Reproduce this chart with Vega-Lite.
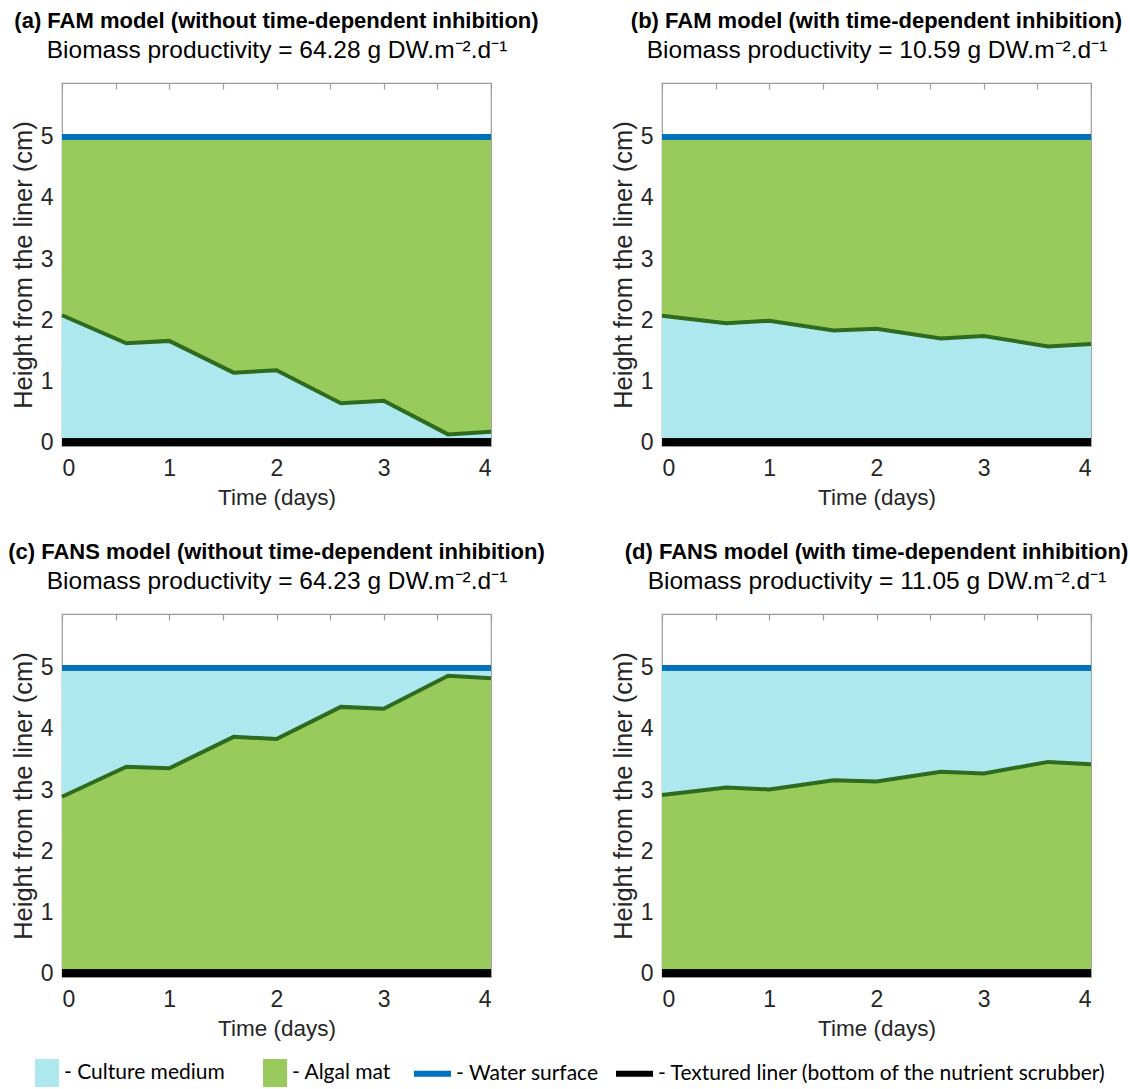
{
  "$schema": "https://vega.github.io/schema/vega-lite/v6.json",
  "background": "white",
  "padding": {"left": 7, "top": 9, "right": 3, "bottom": 0},
  "datasets": {
    "a": [
      {"t": 0, "h": 2.08}, {"t": 0.6, "h": 1.62}, {"t": 1, "h": 1.66}, {"t": 1.6, "h": 1.14}, {"t": 2, "h": 1.18},
      {"t": 2.6, "h": 0.64}, {"t": 3, "h": 0.68}, {"t": 3.6, "h": 0.13}, {"t": 4, "h": 0.175}
    ],
    "b": [
      {"t": 0, "h": 2.07}, {"t": 0.6, "h": 1.95}, {"t": 1, "h": 1.99}, {"t": 1.6, "h": 1.83}, {"t": 2, "h": 1.86},
      {"t": 2.6, "h": 1.70}, {"t": 3, "h": 1.74}, {"t": 3.6, "h": 1.57}, {"t": 4, "h": 1.61}
    ],
    "c": [
      {"t": 0, "h": 2.89}, {"t": 0.6, "h": 3.38}, {"t": 1, "h": 3.355}, {"t": 1.6, "h": 3.87}, {"t": 2, "h": 3.835},
      {"t": 2.6, "h": 4.36}, {"t": 3, "h": 4.33}, {"t": 3.6, "h": 4.87}, {"t": 4, "h": 4.83}
    ],
    "d": [
      {"t": 0, "h": 2.92}, {"t": 0.6, "h": 3.04}, {"t": 1, "h": 3.01}, {"t": 1.6, "h": 3.16}, {"t": 2, "h": 3.14},
      {"t": 2.6, "h": 3.30}, {"t": 3, "h": 3.27}, {"t": 3.6, "h": 3.46}, {"t": 4, "h": 3.42}
    ]
  },
  "spacing": 30,
  "vconcat": [
    {
      "bounds": "flush",
      "spacing": 171,
      "resolve": {"legend": {"fill": "independent", "stroke": "independent"}},
      "hconcat": [
        {
          "width": 429, "height": 363,
          "title": {"text": "(a) FAM model (without time-dependent inhibition)"},
          "data": {"name": "a"},
          "layer": [
            {"mark": {"type": "area", "opacity": 1},
             "encoding": {
               "x": {"field": "t", "type": "quantitative", "scale": {"domain": [0, 4], "nice": false}, "axis": {"values": [0, 1, 2, 3, 4], "format": "d", "title": "Time (days)"}},
               "y": {"field": "h", "type": "quantitative", "scale": {"domain": [-0.06, 5.88], "nice": false, "zero": false}, "axis": {"values": [0, 1, 2, 3, 4, 5], "format": "d", "title": "Height from the liner (cm)"}},
               "y2": {"datum": 0},
               "fill": {"datum": "- Culture medium", "type": "nominal",
                        "scale": {"domain": ["- Culture medium", "- Algal mat"], "range": ["#aee8ef", "#98cb5b"]}, "legend": null}
             }},
            {"mark": {"type": "area", "opacity": 1},
             "encoding": {
               "x": {"field": "t", "type": "quantitative", "axis": null},
               "y": {"field": "h", "type": "quantitative"},
               "y2": {"datum": 5},
               "fill": {"datum": "- Algal mat", "type": "nominal", "legend": null}
             }},
            {"mark": {"type": "line", "color": "#2e6b1f", "strokeWidth": 4},
             "encoding": {
               "x": {"field": "t", "type": "quantitative", "axis": {"orient": "top", "title": "Biomass productivity = 64.28 g DW.m⁻².d⁻¹"}},
               "y": {"field": "h", "type": "quantitative"}
             }},
            {"mark": {"type": "rule", "strokeWidth": 5},
             "encoding": {"y": {"datum": 5}, "stroke": {"datum": "- Water surface", "type": "nominal",
               "scale": {"domain": ["- Water surface", "- Textured liner (bottom of the nutrient scrubber)"], "range": ["#0072bd", "#000000"]}, "legend": null}}},
            {"mark": {"type": "rule", "strokeWidth": 7}, "encoding": {"y": {"datum": 0}, "stroke": {"datum": "- Textured liner (bottom of the nutrient scrubber)", "type": "nominal", "legend": null}}}
          ],
          "resolve": {"axis": {"x": "independent"}}
        },
        {
          "width": 429, "height": 363,
          "title": {"text": "(b) FAM model (with time-dependent inhibition)"},
          "data": {"name": "b"},
          "layer": [
            {"mark": {"type": "area", "opacity": 1},
             "encoding": {
               "x": {"field": "t", "type": "quantitative", "scale": {"domain": [0, 4], "nice": false}, "axis": {"values": [0, 1, 2, 3, 4], "format": "d", "title": "Time (days)"}},
               "y": {"field": "h", "type": "quantitative", "scale": {"domain": [-0.06, 5.88], "nice": false, "zero": false}, "axis": {"values": [0, 1, 2, 3, 4, 5], "format": "d", "title": "Height from the liner (cm)"}},
               "y2": {"datum": 0},
               "fill": {"datum": "- Culture medium", "type": "nominal", "legend": null}
             }},
            {"mark": {"type": "area", "opacity": 1},
             "encoding": {
               "x": {"field": "t", "type": "quantitative", "axis": null},
               "y": {"field": "h", "type": "quantitative"},
               "y2": {"datum": 5},
               "fill": {"datum": "- Algal mat", "type": "nominal", "legend": null}
             }},
            {"mark": {"type": "line", "color": "#2e6b1f", "strokeWidth": 4},
             "encoding": {
               "x": {"field": "t", "type": "quantitative", "axis": {"orient": "top", "title": "Biomass productivity = 10.59 g DW.m⁻².d⁻¹"}},
               "y": {"field": "h", "type": "quantitative"}
             }},
            {"mark": {"type": "rule", "strokeWidth": 5}, "encoding": {"y": {"datum": 5}, "stroke": {"datum": "- Water surface", "type": "nominal", "legend": null}}},
            {"mark": {"type": "rule", "strokeWidth": 7}, "encoding": {"y": {"datum": 0}, "stroke": {"datum": "- Textured liner (bottom of the nutrient scrubber)", "type": "nominal", "legend": null}}}
          ],
          "resolve": {"axis": {"x": "independent"}}
        }
      ]
    },
    {
      "bounds": "flush",
      "spacing": 171,
      "resolve": {"legend": {"fill": "independent", "stroke": "independent"}},
      "hconcat": [
        {
          "width": 429, "height": 363,
          "title": {"text": "(c) FANS model (without time-dependent inhibition)"},
          "data": {"name": "c"},
          "layer": [
            {"mark": {"type": "area", "opacity": 1},
             "encoding": {
               "x": {"field": "t", "type": "quantitative", "scale": {"domain": [0, 4], "nice": false}, "axis": {"values": [0, 1, 2, 3, 4], "format": "d", "title": "Time (days)"}},
               "y": {"field": "h", "type": "quantitative", "scale": {"domain": [-0.06, 5.88], "nice": false, "zero": false}, "axis": {"values": [0, 1, 2, 3, 4, 5], "format": "d", "title": "Height from the liner (cm)"}},
               "y2": {"datum": 0},
               "fill": {"datum": "- Algal mat", "type": "nominal",
                        "legend": {"orient": "none", "legendX": -29, "legendY": 445, "direction": "horizontal", "symbolType": "M-0.857,-1H0.857V1H-0.857Z", "symbolSize": 784, "symbolStrokeWidth": 0, "symbolOpacity": 1, "columnPadding": 36, "labelOffset": 3}}
             }},
            {"mark": {"type": "area", "opacity": 1},
             "encoding": {
               "x": {"field": "t", "type": "quantitative", "axis": null},
               "y": {"field": "h", "type": "quantitative"},
               "y2": {"datum": 5},
               "fill": {"datum": "- Culture medium", "type": "nominal"}
             }},
            {"mark": {"type": "line", "color": "#2e6b1f", "strokeWidth": 4},
             "encoding": {
               "x": {"field": "t", "type": "quantitative", "axis": {"orient": "top", "title": "Biomass productivity = 64.23 g DW.m⁻².d⁻¹"}},
               "y": {"field": "h", "type": "quantitative"}
             }},
            {"mark": {"type": "rule", "strokeWidth": 5}, "encoding": {"y": {"datum": 5}, "stroke": {"datum": "- Water surface", "type": "nominal",
               "legend": {"orient": "none", "legendX": 349, "legendY": 438, "direction": "horizontal", "symbolType": "stroke", "symbolSize": 1369, "symbolStrokeWidth": 6, "columnPadding": 5, "labelOffset": 2}}}},
            {"mark": {"type": "rule", "strokeWidth": 7}, "encoding": {"y": {"datum": 0}, "stroke": {"datum": "- Textured liner (bottom of the nutrient scrubber)", "type": "nominal"}}}
          ],
          "resolve": {"axis": {"x": "independent"}}
        },
        {
          "width": 429, "height": 363,
          "title": {"text": "(d) FANS model (with time-dependent inhibition)"},
          "data": {"name": "d"},
          "layer": [
            {"mark": {"type": "area", "opacity": 1},
             "encoding": {
               "x": {"field": "t", "type": "quantitative", "scale": {"domain": [0, 4], "nice": false}, "axis": {"values": [0, 1, 2, 3, 4], "format": "d", "title": "Time (days)"}},
               "y": {"field": "h", "type": "quantitative", "scale": {"domain": [-0.06, 5.88], "nice": false, "zero": false}, "axis": {"values": [0, 1, 2, 3, 4, 5], "format": "d", "title": "Height from the liner (cm)"}},
               "y2": {"datum": 0},
               "fill": {"datum": "- Algal mat", "type": "nominal", "legend": null}
             }},
            {"mark": {"type": "area", "opacity": 1},
             "encoding": {
               "x": {"field": "t", "type": "quantitative", "axis": null},
               "y": {"field": "h", "type": "quantitative"},
               "y2": {"datum": 5},
               "fill": {"datum": "- Culture medium", "type": "nominal", "legend": null}
             }},
            {"mark": {"type": "line", "color": "#2e6b1f", "strokeWidth": 4},
             "encoding": {
               "x": {"field": "t", "type": "quantitative", "axis": {"orient": "top", "title": "Biomass productivity = 11.05 g DW.m⁻².d⁻¹"}},
               "y": {"field": "h", "type": "quantitative"}
             }},
            {"mark": {"type": "rule", "strokeWidth": 5}, "encoding": {"y": {"datum": 5}, "stroke": {"datum": "- Water surface", "type": "nominal", "legend": null}}},
            {"mark": {"type": "rule", "strokeWidth": 7}, "encoding": {"y": {"datum": 0}, "stroke": {"datum": "- Textured liner (bottom of the nutrient scrubber)", "type": "nominal", "legend": null}}}
          ],
          "resolve": {"axis": {"x": "independent"}}
        }
      ]
    }
  ],
  "resolve": {"scale": {"fill": "shared", "stroke": "shared"}, "legend": {"fill": "independent", "stroke": "independent"}},
  "config": {
    "font": "Liberation Sans",
    "view": {"stroke": "#9a9a9a", "strokeWidth": 1.2},
    "title": {"anchor": "middle", "frame": "group", "fontSize": 22, "fontWeight": "bold", "color": "#000000", "offset": 4},
    "axis": {"grid": false, "domain": false, "labelFontSize": 23, "labelColor": "#262626", "titleFontSize": 22.5, "titleFontWeight": "normal", "titleColor": "#262626", "tickSize": 0, "labelPadding": 9, "titlePadding": 6},
    "axisLeft": {"titleFontSize": 25.5, "titlePadding": 4},
    "axisTop": {"values": [1, 2, 3], "labels": false, "tickSize": -6, "tickColor": "#9a9a9a", "tickWidth": 1.2, "titleFontSize": 24.5, "titleColor": "#000000", "titlePadding": 20},
    "axisBottom": {"labelPadding": 11},
    "legend": {"labelFont": "Lato", "labelFontSize": 21, "labelColor": "#000000", "labelLimit": 0, "title": null}
  }
}
